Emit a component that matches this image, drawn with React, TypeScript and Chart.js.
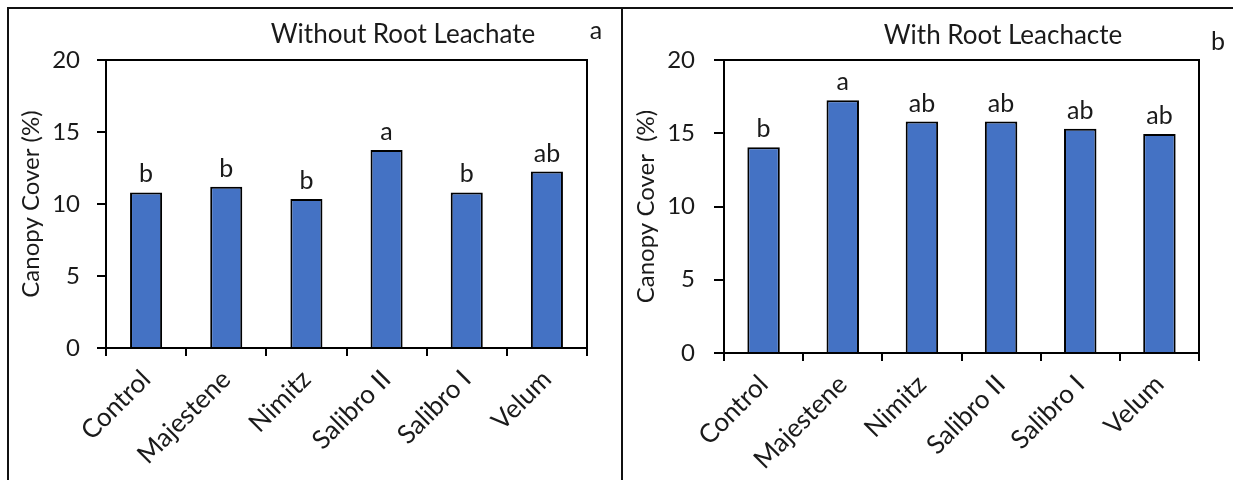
import React, { useEffect, useRef } from "react";
import { Chart, registerables } from "chart.js";

Chart.register(...registerables);

const categories = ["Control", "Majestene", "Nimitz", "Salibro II", "Salibro I", "Velum"];
const withoutValues = [10.8, 11.2, 10.35, 13.75, 10.8, 12.25];
const withValues = [14.05, 17.25, 15.8, 15.8, 15.3, 14.95];
const withoutLetters = ["b", "b", "b", "a", "b", "ab"];
const withLetters = ["b", "a", "ab", "ab", "ab", "ab"];
const panelTitles = ["Without Root Leachate", "With Root Leachacte"];
const panelLetters = ["a", "b"];
const yTitles = ["Canopy Cover (%)", "Canopy Cover  (%)"];
const yMin = 0;
const yMax = 20;
const yStep = 5;

const FONT = "Lato, 'Open Sans', sans-serif";
const TEXT = "#1a1a1a";
const BAR = "#4472C4";

type PanelCfg = {
  values: number[];
  letters: string[];
  title: string;
  titleX: number;
  titleY: number;
  panelLetter: string;
  letterX: number;
  letterY: number;
  yTitle: string;
  area: { left: number; right: number; top: number; bottom: number };
  yWidth: number;
  yTickLen: number;
  yPad: number;
  yTitlePad: number;
  barPct: number;
};

const panels: PanelCfg[] = [
  {
    values: withoutValues,
    letters: withoutLetters,
    title: panelTitles[0],
    titleX: 403,
    titleY: 43,
    panelLetter: panelLetters[0],
    letterX: 596,
    letterY: 39,
    yTitle: yTitles[0],
    area: { left: 106, right: 587, top: 60, bottom: 348 },
    yWidth: 90,
    yTickLen: 9,
    yPad: 17,
    yTitlePad: 1,
    barPct: 0.4,
  },
  {
    values: withValues,
    letters: withLetters,
    title: panelTitles[1],
    titleX: 1003,
    titleY: 44,
    panelLetter: panelLetters[1],
    letterX: 1218,
    letterY: 50,
    yTitle: yTitles[1],
    area: { left: 724, right: 1199, top: 60, bottom: 353 },
    yWidth: 92,
    yTickLen: 10,
    yPad: 19,
    yTitlePad: 0,
    barPct: 0.41,
  },
];

const W = 1233;
const H = 480;
const X_HEIGHT = 120;

function PanelChart({ cfg }: { cfg: PanelCfg }) {
  const ref = useRef<HTMLCanvasElement | null>(null);
  useEffect(() => {
    if (!ref.current) return;
    const textPlugin = {
      id: "panelText",
      afterDraw(chart: any) {
        const ctx = chart.ctx;
        const { left, right, top, bottom } = chart.chartArea;
        ctx.save();
        // frame (top & right)
        ctx.strokeStyle = "#000";
        ctx.lineWidth = 2;
        ctx.beginPath();
        ctx.moveTo(left, top);
        ctx.lineTo(right, top);
        ctx.lineTo(right, bottom);
        ctx.stroke();
        // bar letters
        const meta = chart.getDatasetMeta(0);
        ctx.fillStyle = TEXT;
        ctx.font = `25px ${FONT}`;
        ctx.textAlign = "center";
        ctx.textBaseline = "alphabetic";
        meta.data.forEach((bar: any, i: number) => {
          ctx.fillText(cfg.letters[i], bar.x, bar.y - 10);
        });
        // title
        ctx.font = `26px ${FONT}`;
        ctx.fillText(cfg.title, cfg.titleX, cfg.titleY);
        // panel letter
        ctx.font = `25px ${FONT}`;
        ctx.fillText(cfg.panelLetter, cfg.letterX, cfg.letterY);
        ctx.restore();
      },
    };
    const chart = new Chart(ref.current, {
      type: "bar",
      data: {
        labels: categories,
        datasets: [
          {
            data: cfg.values,
            backgroundColor: BAR,
            borderColor: "#000",
            borderWidth: 2,
            barPercentage: cfg.barPct,
            categoryPercentage: 1,
          },
        ],
      },
      options: {
        responsive: false,
        animation: false,
        devicePixelRatio: 1,
        layout: {
          padding: {
            left: cfg.area.left - cfg.yWidth,
            right: W - cfg.area.right,
            top: cfg.area.top,
            bottom: H - cfg.area.bottom - X_HEIGHT,
          },
        },
        plugins: {
          legend: { display: false },
          tooltip: { enabled: false },
          title: { display: false },
        },
        scales: {
          x: {
            offset: true,
            clip: false,
            grid: {
              offset: true,
              drawOnChartArea: false,
              drawTicks: true,
              tickLength: 8,
              color: "#000",
              lineWidth: 2,
            },
            border: { display: true, color: "#000", width: 2 },
            ticks: {
              color: TEXT,
              font: { family: FONT, size: 26 },
              minRotation: 45,
              maxRotation: 45,
              autoSkip: false,
              padding: 8,
            },
            afterFit: (scale: any) => {
              scale.height = X_HEIGHT;
            },
          },
          y: {
            min: yMin,
            max: yMax,
            clip: false,
            grid: {
              drawOnChartArea: false,
              drawTicks: true,
              tickLength: cfg.yTickLen,
              color: "#000",
              lineWidth: 2,
            },
            border: { display: true, color: "#000", width: 2 },
            ticks: {
              stepSize: yStep,
              color: TEXT,
              font: { family: FONT, size: 24 },
              padding: cfg.yPad,
            },
            title: {
              display: true,
              text: cfg.yTitle,
              color: TEXT,
              font: { family: FONT, size: 24 },
              padding: { top: cfg.yTitlePad, bottom: 0 },
            },
            afterFit: (scale: any) => {
              scale.width = cfg.yWidth;
            },
          },
        },
      },
      plugins: [textPlugin],
    });
    return () => chart.destroy();
  }, [cfg]);
  return (
    <canvas
      ref={ref}
      width={W}
      height={H}
      style={{ position: "absolute", left: 0, top: 0, width: W, height: H }}
    />
  );
}

export default function App() {
  return (
    <div
      style={{
        position: "fixed",
        left: 0,
        top: 0,
        width: W,
        height: H,
        background: "#fff",
        overflow: "hidden",
      }}
    >
      <div style={{ position: "absolute", left: 7, top: 7, width: W - 7, height: 2, background: "#111" }} />
      <div style={{ position: "absolute", left: 7, top: 7, width: 2, height: H - 7, background: "#111" }} />
      <div style={{ position: "absolute", left: 621, top: 7, width: 2, height: H - 7, background: "#111" }} />
      {panels.map((p, i) => (
        <PanelChart key={i} cfg={p} />
      ))}
    </div>
  );
}
